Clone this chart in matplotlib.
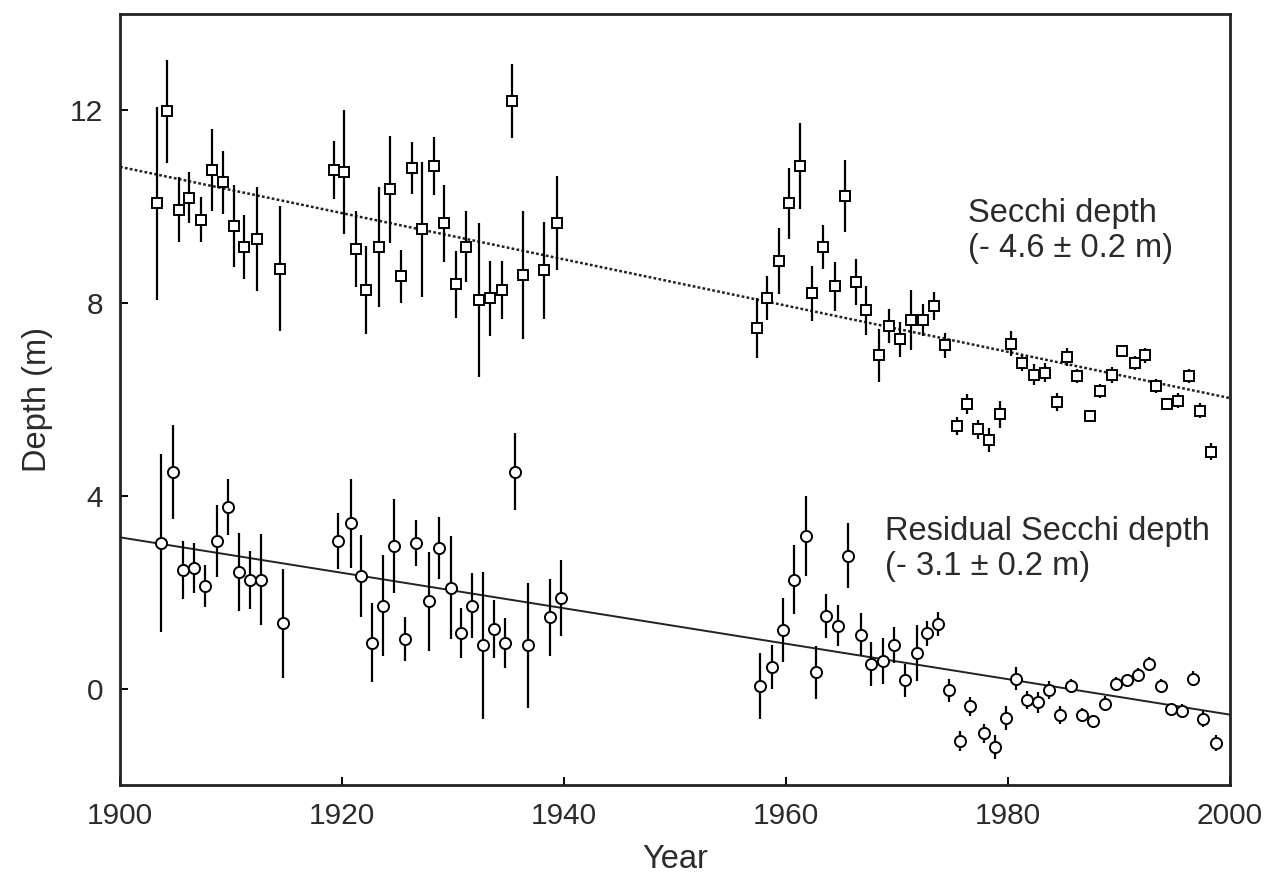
import matplotlib
matplotlib.use("Agg")
import matplotlib.pyplot as plt

# Secchi depth (squares)
secchi_year = [1903.3, 1904.2, 1905.3, 1906.2, 1907.3, 1908.3, 1909.3, 1910.3, 1911.2, 1912.3,
               1914.4, 1919.3, 1920.2, 1921.3, 1922.2, 1923.3, 1924.3, 1925.3, 1926.3, 1927.2,
               1928.3, 1929.2, 1930.3, 1931.2, 1932.3, 1933.3, 1934.4, 1935.3, 1936.3, 1938.2,
               1939.4,
               1957.4, 1958.3, 1959.4, 1960.3, 1961.3, 1962.3, 1963.3, 1964.4, 1965.3, 1966.3,
               1967.2, 1968.4, 1969.3, 1970.3, 1971.3, 1972.3, 1973.3, 1974.3, 1975.4, 1976.3,
               1977.3, 1978.3, 1979.3, 1980.3, 1981.3, 1982.3, 1983.3, 1984.4, 1985.3, 1986.2,
               1987.4, 1988.3, 1989.4, 1990.3, 1991.4, 1992.3, 1993.3, 1994.3, 1995.3, 1996.3,
               1997.3, 1998.3]
secchi_depth = [10.07, 11.98, 9.94, 10.19, 9.73, 10.76, 10.51, 9.61, 9.17, 9.33,
                8.72, 10.76, 10.72, 9.12, 8.27, 9.17, 10.36, 8.56, 10.80, 9.53,
                10.85, 9.66, 8.39, 9.17, 8.06, 8.10, 8.27, 12.19, 8.59, 8.68,
                9.66,
                7.49, 8.11, 8.88, 10.07, 10.84, 8.21, 9.17, 8.35, 10.22, 8.44,
                7.85, 6.92, 7.52, 7.25, 7.65, 7.65, 7.94, 7.13, 5.45, 5.91,
                5.38, 5.16, 5.69, 7.16, 6.76, 6.52, 6.56, 5.95, 6.89, 6.49,
                5.66, 6.18, 6.51, 7.01, 6.76, 6.92, 6.28, 5.91, 5.98, 6.49,
                5.77, 4.92]
secchi_err = [2.0, 1.07, 0.67, 0.53, 0.47, 0.85, 0.65, 0.85, 0.67, 1.08,
              1.3, 0.6, 1.28, 0.79, 0.91, 1.25, 1.12, 0.55, 0.54, 1.4,
              0.6, 0.8, 0.7, 0.74, 1.6, 0.78, 0.6, 0.77, 1.33, 1.0,
              0.97,
              0.62, 0.46, 0.69, 0.73, 0.89, 0.57, 0.46, 0.51, 0.75, 0.47,
              0.51, 0.55, 0.35, 0.37, 0.62, 0.33, 0.29, 0.26, 0.19, 0.21,
              0.2, 0.25, 0.27, 0.26, 0.17, 0.22, 0.19, 0.19, 0.19, 0.15,
              0.13, 0.15, 0.16, 0.12, 0.14, 0.16, 0.15, 0.12, 0.16, 0.15,
              0.16, 0.17]

# Residual Secchi depth (circles)
resid_year = [1903.7, 1904.8, 1905.7, 1906.7, 1907.7, 1908.7, 1909.7, 1910.7, 1911.7, 1912.7,
              1914.7, 1919.6, 1920.8, 1921.7, 1922.7, 1923.7, 1924.7, 1925.7, 1926.7, 1927.8,
              1928.7, 1929.8, 1930.7, 1931.7, 1932.7, 1933.7, 1934.7, 1935.6, 1936.8, 1938.7,
              1939.7,
              1957.7, 1958.7, 1959.7, 1960.7, 1961.8, 1962.7, 1963.6, 1964.7, 1965.6, 1966.8,
              1967.7, 1968.7, 1969.7, 1970.7, 1971.8, 1972.7, 1973.7, 1974.7, 1975.7, 1976.6,
              1977.8, 1978.8, 1979.8, 1980.7, 1981.7, 1982.7, 1983.7, 1984.7, 1985.7, 1986.7,
              1987.7, 1988.7, 1989.7, 1990.7, 1991.7, 1992.7, 1993.8, 1994.7, 1995.7, 1996.7,
              1997.6, 1998.7]
resid_depth = [3.03, 4.50, 2.47, 2.50, 2.13, 3.07, 3.77, 2.42, 2.26, 2.26,
               1.36, 3.07, 3.43, 2.34, 0.95, 1.72, 2.96, 1.03, 3.03, 1.81,
               2.92, 2.09, 1.15, 1.72, 0.90, 1.24, 0.95, 4.50, 0.90, 1.48,
               1.89,
               0.05, 0.45, 1.22, 2.26, 3.16, 0.34, 1.51, 1.31, 2.76, 1.12,
               0.51, 0.57, 0.91, 0.17, 0.74, 1.15, 1.35, -0.03, -1.09, -0.37,
               -0.93, -1.21, -0.61, 0.21, -0.24, -0.28, -0.03, -0.55, 0.05, -0.55,
               -0.68, -0.31, 0.10, 0.17, 0.29, 0.51, 0.05, -0.43, -0.46, 0.21,
               -0.63, -1.13]
resid_err = [1.85, 0.98, 0.6, 0.52, 0.44, 0.75, 0.58, 0.8, 0.6, 0.94,
             1.13, 0.58, 0.93, 0.85, 0.82, 1.05, 0.98, 0.45, 0.48, 1.02,
             0.65, 1.07, 0.52, 0.67, 1.52, 0.6, 0.52, 0.8, 1.3, 0.8,
             0.79,
             0.68, 0.45, 0.66, 0.72, 0.83, 0.55, 0.46, 0.42, 0.68, 0.45,
             0.45, 0.48, 0.37, 0.35, 0.58, 0.26, 0.25, 0.24, 0.21, 0.2,
             0.19, 0.25, 0.24, 0.24, 0.19, 0.22, 0.19, 0.19, 0.14, 0.15,
             0.13, 0.15, 0.15, 0.12, 0.14, 0.15, 0.15, 0.12, 0.15, 0.15,
             0.16, 0.17]

# fitted trend lines (end points)
trend_years = [1900, 2000]
secchi_trend = [10.83, 6.03]
resid_trend = [3.14, -0.54]

plt.rcParams['font.family'] = ['Liberation Sans', 'DejaVu Sans']
text_color = '#2b2b2b'

fig = plt.figure(figsize=(12.67, 8.83), dpi=100)
ax = fig.add_axes([0.0947, 0.111, 0.8761, 0.873])

ax.plot(trend_years, secchi_trend, color='#222222', lw=1.8, ls=(0, (1.1, 0.9)))
ax.plot(trend_years, resid_trend, color='#222222', lw=1.4)

ax.errorbar(secchi_year, secchi_depth, yerr=secchi_err, fmt='s', ms=7.5,
            mfc='white', mec='black', mew=1.4, ecolor='black', elinewidth=1.6,
            capsize=0, zorder=3)
ax.errorbar(resid_year, resid_depth, yerr=resid_err, fmt='o', ms=8,
            mfc='white', mec='black', mew=1.4, ecolor='black', elinewidth=1.6,
            capsize=0, zorder=3)

ax.text(1976.4, 9.5, "Secchi depth\n(- 4.6 \u00b1 0.2 m)", fontsize=23.5,
        color=text_color, va='center', ha='left', linespacing=1.15)
ax.text(1968.9, 2.9, "Residual Secchi depth\n(- 3.1 \u00b1 0.2 m)", fontsize=23.5,
        color=text_color, va='center', ha='left', linespacing=1.15)

ax.set_xlim(1900, 2000)
ax.set_ylim(-2, 14)
ax.set_xticks([1900, 1920, 1940, 1960, 1980, 2000])
ax.set_yticks([0, 4, 8, 12])
ax.tick_params(direction='in', length=6, width=1.4, labelsize=21.5,
               labelcolor=text_color, pad=12)
for s in ax.spines.values():
    s.set_linewidth(2.0)
    s.set_color('#222222')

ax.set_xlabel("Year", fontsize=23.5, color=text_color, labelpad=10)
ax.set_ylabel("Depth (m)", fontsize=23.5, color=text_color, labelpad=12)

fig.savefig("out.png", dpi=100)
